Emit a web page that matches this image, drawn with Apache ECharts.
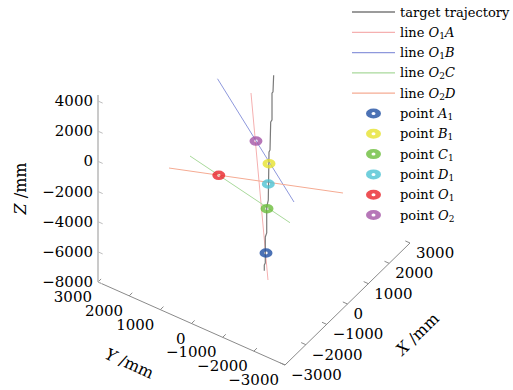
<!DOCTYPE html>
<html><head><meta charset="utf-8">
<script src="https://cdn.jsdelivr.net/npm/echarts@6/dist/echarts.min.js"></script>
<style>html,body{margin:0;padding:0;background:#fff}#c{width:513px;height:390px}</style>
</head><body><div id="c"></div>
<script>
// ---- axis limits & ticks (mm) ----
const xLimits = [-3000, 3000];
const yLimits = [-3000, 3000];
const zLimits = [-8000, 4400];
const xTicks = [-3000, -2000, -1000, 0, 1000, 2000, 3000];
const yTicks = [-3000, -2000, -1000, 0, 1000, 2000, 3000];
const zTicks = [-8000, -6000, -4000, -2000, 0, 2000, 4000];

// ---- target trajectory (mm) ----
const trajectoryX = [300, 269, 221, 221, 158, 125, 77, 43, -33, -33, -101, -101, -149, -149];
const trajectoryY = [-430, -430, -430, -430, -430, -430, -430, -430, -430, -430, -430, -430, -430, -430];
const trajectoryZ = [4400, 3340, 3330, 1550, 1500, -320, -380, -3520, -3880, -5600, -5780, -7500, -7570, -7960];

// ---- rays (two end points each, [x, y, z] mm) ----
const lineO1A = [[77, 148, 3000], [-382, -704, -8000]];
const lineO1B = [[-453, 868, 4000], [606, -878, -4000]];
const lineO2C = [[-929, 1432, -1000], [356, -917, -5000]];
const lineO2D = [[-2160, 1283, 0], [371, -2608, -1500]];

// ---- points ([x, y, z] mm) ----
const pointA1 = [-67, -430, -6885];
const pointB1 = [77, -430, -1159];
const pointC1 = [-19, -430, -4013];
const pointD1 = [43, -430, -2459];
const pointO1 = [-1660, 20, 0];
const pointO2 = [-707, -536, 1500];

// ---- view (orthographic projection of the axis box onto the page) ----
const view = { origin: [285, 365], ex: [125, -122], ey: [-187, -83], ez: [0, -187] };
function proj(p) {
  const u = (p[0] - xLimits[0]) / (xLimits[1] - xLimits[0]);
  const v = (p[1] - yLimits[0]) / (yLimits[1] - yLimits[0]);
  const w = (p[2] - zLimits[0]) / (zLimits[1] - zLimits[0]);
  return [view.origin[0] + u * view.ex[0] + v * view.ey[0] + w * view.ez[0],
          view.origin[1] + u * view.ex[1] + v * view.ey[1] + w * view.ez[1]];
}
const FONT = '"DejaVu Serif", "Liberation Serif", serif';
const TICK_FS = 15;
const fmt = v => v < 0 ? '\u2212' + Math.abs(v) : String(v);

const axesSpec = [
  { lim: xLimits, ticks: xTicks, at: v => [v, yLimits[0], zLimits[0]], tickDir: [0, 150, 0],
    color: '#8a8a8a', width: 1, align: 'left', va: 'middle', off: [6, 10],
    title: 'X', tOff: [70, 30], tRot: 0.77 },
  { lim: yLimits, ticks: yTicks, at: v => [xLimits[0], v, zLimits[0]], tickDir: [150, 0, 0],
    color: '#8a8a8a', width: 1, align: 'right', va: 'middle', off: [-6, 15],
    title: 'Y', tOff: [-62, 40], tRot: -0.42 },
  { lim: zLimits, ticks: zTicks, at: v => [xLimits[0], yLimits[1], v], tickDir: [0, -150, 0],
    color: '#bdbdbd', width: 1.6, align: 'right', va: 'middle', off: [-5, 0],
    title: 'Z', tOff: [-78, 0], tRot: Math.PI / 2 }
];

function renderAxis(params, api) {
  const s = axesSpec[params.dataIndex];
  const ch = [];
  const p0 = api.coord(proj(s.at(s.lim[0]))), p1 = api.coord(proj(s.at(s.lim[1])));
  ch.push({ type: 'line', shape: { x1: p0[0], y1: p0[1], x2: p1[0], y2: p1[1] },
            style: { stroke: s.color, lineWidth: s.width } });
  s.ticks.forEach(v => {
    const a = s.at(v), b = a.map((c, i) => c + s.tickDir[i]);
    const pa = api.coord(proj(a)), pb = api.coord(proj(b));
    ch.push({ type: 'line', shape: { x1: pa[0], y1: pa[1], x2: pb[0], y2: pb[1] },
              style: { stroke: s.color, lineWidth: 1 } });
    ch.push({ type: 'text', style: { text: fmt(v), x: pa[0] + s.off[0], y: pa[1] + s.off[1],
              align: s.align, verticalAlign: s.va, fontFamily: FONT, fontSize: TICK_FS, fill: '#000' } });
  });
  const mid = api.coord(proj(s.at((s.lim[0] + s.lim[1]) / 2)));
  ch.push({ type: 'text', x: mid[0] + s.tOff[0], y: mid[1] + s.tOff[1], rotation: s.tRot,
            style: { text: '{i|' + s.title + '}{r| /mm}', align: 'center', verticalAlign: 'middle',
                     fill: '#000', fontFamily: FONT, fontSize: 16,
                     rich: { i: { fontFamily: FONT, fontSize: 16, fontStyle: 'italic', fill: '#000' },
                             r: { fontFamily: FONT, fontSize: 16, fill: '#000' } } } });
  return { type: 'group', children: ch };
}

const ring = 'path://M0,10 A15,10 0 1,1 30,10 A15,10 0 1,1 0,10 Z M11,10 A4,3 0 1,0 19,10 A4,3 0 1,0 11,10 Z';
const lineIcon = 'path://M0,0 H43 V1.3 H0 Z';

const trajectory = trajectoryX.map((x, i) => proj([x, trajectoryY[i], trajectoryZ[i]]));
function lineSeries(name, pts, color, width, z) {
  return { name, type: 'line', data: pts.map(proj), symbol: 'none', color, z,
           lineStyle: { color, width }, silent: true };
}
function pointSeries(name, p, color) {
  return { name, type: 'scatter', data: [proj(p)], symbol: ring, symbolSize: [13, 9.5], color, z: 5,
           itemStyle: { color }, silent: true };
}
const legendText = {
  'target trajectory': '{r|target trajectory}',
  'line O1A': '{r|line }{i|O}{s|1}{i|A}',
  'line O1B': '{r|line }{i|O}{s|1}{i|B}',
  'line O2C': '{r|line }{i|O}{s|2}{i|C}',
  'line O2D': '{r|line }{i|O}{s|2}{i|D}',
  'point A1': '{r|point }{i|A}{s|1}',
  'point B1': '{r|point }{i|B}{s|1}',
  'point C1': '{r|point }{i|C}{s|1}',
  'point D1': '{r|point }{i|D}{s|1}',
  'point O1': '{r|point }{i|O}{s|1}',
  'point O2': '{r|point }{i|O}{s|2}'
};
const legendData = Object.keys(legendText).map(n => n.startsWith('point') ? { name: n } : { name: n, icon: lineIcon });

const chart = echarts.init(document.getElementById('c'), null, { renderer: 'svg' });
chart.setOption({
  animation: false,
  backgroundColor: '#fff',
  grid: { left: 0, top: 0, width: 513, height: 390 },
  xAxis: { type: 'value', min: 0, max: 513, show: false },
  yAxis: { type: 'value', min: 0, max: 390, inverse: true, show: false },
  legend: {
    data: legendData, orient: 'vertical', left: 352, top: 4, padding: 0,
    itemWidth: 43, itemHeight: 10, itemGap: 4.3, selectedMode: false,
    formatter: n => legendText[n],
    textStyle: { color: '#000', fontFamily: FONT, fontSize: 13, lineHeight: 16,
      rich: {
        r: { fontFamily: FONT, fontSize: 13, lineHeight: 16, color: '#000' },
        i: { fontFamily: FONT, fontSize: 13, lineHeight: 16, fontStyle: 'italic', color: '#000' },
        s: { fontFamily: FONT, fontSize: 9, lineHeight: 9, padding: [7, 0, 0, 0], color: '#000' }
      } }
  },
  series: [
    { type: 'custom', name: 'axes', renderItem: renderAxis, data: [0, 1, 2], silent: true, z: 1 },
    lineSeries('line O1A', lineO1A, '#f5b0b0', 1, 2),
    lineSeries('line O1B', lineO1B, '#8e98dc', 1, 2),
    lineSeries('line O2C', lineO2C, '#a9d99b', 1, 2),
    lineSeries('line O2D', lineO2D, '#f5ab93', 1, 2),
    { name: 'target trajectory', type: 'line', data: trajectory, symbol: 'none', color: '#7a7a7a', z: 3,
      lineStyle: { color: '#7a7a7a', width: 1.2 }, silent: true },
    pointSeries('point A1', pointA1, '#1f4fa3'),
    pointSeries('point B1', pointB1, '#e6e22e'),
    pointSeries('point C1', pointC1, '#6bbd3b'),
    pointSeries('point D1', pointD1, '#4ec3d3'),
    pointSeries('point O1', pointO1, '#e8252a'),
    pointSeries('point O2', pointO2, '#a455a6')
  ]
});
</script></body></html>
